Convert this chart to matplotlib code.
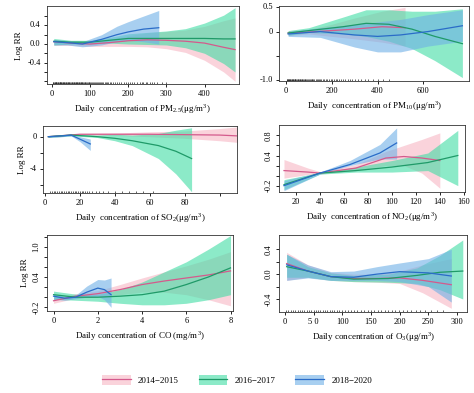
import numpy as np
import matplotlib.pyplot as plt
from matplotlib.patches import Patch
from matplotlib.lines import Line2D

plt.rcParams['font.family'] = ['Liberation Serif', 'DejaVu Serif']
plt.rcParams['mathtext.fontset'] = 'stix'

periods = ['2014\u22122015', '2016\u22122017', '2018\u22122020']
band_colors = ['#f7b6c4', '#3fdca4', '#6fb0e6']
line_colors = ['#d45a8c', '#1f9a68', '#2a6cc8']

# PM2.5
pm25_x = [[5, 50, 100, 150, 200, 250, 300, 350, 400, 450, 480],
          [5, 50, 100, 150, 200, 250, 300, 350, 400, 450, 480],
          [5, 40, 80, 130, 170, 200, 240, 280]]
pm25_mean = [[0.05, 0.02, 0.0, 0.03, 0.07, 0.09, 0.08, 0.06, 0.02, -0.07, -0.12],
             [0.06, 0.04, 0.04, 0.08, 0.12, 0.12, 0.12, 0.12, 0.12, 0.11, 0.11],
             [0.05, 0.03, 0.0, 0.1, 0.2, 0.26, 0.32, 0.35]]
pm25_low = [[-0.03, -0.03, -0.05, -0.05, -0.05, -0.06, -0.1, -0.18, -0.35, -0.6, -0.8],
            [-0.02, 0.0, 0.0, 0.02, 0.0, -0.01, -0.02, -0.08, -0.2, -0.42, -0.6],
            [-0.02, -0.02, -0.06, -0.02, 0.05, 0.08, 0.05, 0.0]]
pm25_high = [[0.1, 0.07, 0.05, 0.1, 0.18, 0.24, 0.27, 0.3, 0.38, 0.5, 0.56],
             [0.12, 0.08, 0.08, 0.14, 0.22, 0.25, 0.28, 0.33, 0.45, 0.62, 0.78],
             [0.1, 0.07, 0.05, 0.2, 0.38, 0.48, 0.6, 0.72]]
pm25_rug = [2, 4, 5, 7, 8, 10, 11, 12, 14, 15, 17, 18, 20, 21, 22, 24, 25, 27, 28, 30, 31,
            33, 35, 36, 38, 40, 41, 43, 45, 46, 48, 50, 52, 53, 55, 57, 58, 60, 62, 63, 65,
            67, 68, 70, 72, 73, 75, 77, 78, 80, 82, 84, 86, 88, 90, 92, 94, 96, 98, 100, 103,
            105, 108, 110, 113, 115, 118, 120, 123, 125, 128, 130, 134, 138, 141, 145, 148,
            152, 156, 160, 165, 170, 175, 180, 188, 195, 200, 205, 210, 215, 222, 230, 236,
            240, 246, 250, 256, 262, 268, 275, 288, 300]

# PM10
pm10_x = [[10, 100, 200, 300, 420, 520],
          [10, 100, 250, 350, 450, 550, 650, 770],
          [10, 150, 300, 400, 500, 620, 770]]
pm10_mean = [[-0.03, -0.01, 0.02, 0.05, 0.1, 0.08],
             [-0.03, 0.02, 0.1, 0.17, 0.15, 0.05, -0.1, -0.25],
             [-0.05, 0.0, -0.07, -0.1, -0.07, 0.0, 0.12]]
pm10_low = [[-0.08, -0.05, -0.1, -0.15, -0.22, -0.3],
            [-0.08, -0.02, -0.05, -0.1, -0.2, -0.35, -0.6, -0.95],
            [-0.1, -0.12, -0.32, -0.42, -0.42, -0.3, -0.2]]
pm10_high = [[0.02, 0.04, 0.15, 0.28, 0.42, 0.5],
             [0.02, 0.08, 0.3, 0.45, 0.45, 0.42, 0.42, 0.47],
             [0.0, 0.08, 0.15, 0.2, 0.25, 0.35, 0.45]]
pm10_rug = [3, 6, 8, 10, 12, 15, 18, 20, 22, 25, 28, 30, 32, 35, 38, 40, 42, 45, 48, 52,
            55, 58, 60, 63, 66, 69, 72, 75, 78, 82, 85, 88, 92, 96, 100, 104, 108, 112,
            116, 120, 125, 130, 135, 140, 145, 150, 155, 162, 168, 175, 180, 188, 195, 203,
            210, 218, 225, 232, 240, 250, 260, 270, 280, 290, 300, 315, 330, 345, 360, 380,
            400, 425, 450]

# SO2
so2_x = [[2, 20, 40, 60, 80, 100, 110],
         [2, 15, 30, 40, 50, 65, 75, 84],
         [2, 10, 15, 20, 26]]
so2_mean = [[0.0, 0.3, 0.3, 0.3, 0.25, 0.2, 0.1],
            [0.0, 0.2, 0.0, -0.2, -0.5, -1.1, -1.8, -2.7],
            [0.0, 0.1, 0.2, -0.3, -0.9]]
so2_low = [[-0.1, 0.2, 0.15, 0.0, -0.2, -0.5, -0.7],
           [-0.1, 0.1, -0.1, -0.5, -1.1, -2.7, -4.6, -6.8],
           [-0.1, 0.0, 0.1, -0.6, -1.7]]
so2_high = [[0.1, 0.4, 0.45, 0.6, 0.7, 1.0, 1.2],
            [0.1, 0.3, 0.2, 0.3, 0.2, 0.4, 0.8, 1.1],
            [0.1, 0.2, 0.3, 0.0, -0.3]]
so2_rug = [3, 4, 5, 6, 7, 8, 9, 10, 11, 12, 13, 14, 15, 16, 17, 18, 19, 20, 21, 22, 23,
           24, 25, 27, 29, 31, 33, 36, 40, 44, 48, 52, 56, 62]

# NO2
no2_x = [[10, 30, 40, 70, 95, 110, 125, 140],
         [10, 40, 70, 100, 130, 155],
         [10, 40, 65, 90, 104]]
no2_mean = [[0.1, 0.07, 0.05, 0.15, 0.35, 0.38, 0.35, 0.3],
            [-0.18, 0.05, 0.1, 0.17, 0.26, 0.4],
            [-0.2, 0.05, 0.22, 0.45, 0.65]]
no2_low = [[-0.05, 0.02, 0.03, 0.1, 0.2, 0.2, 0.05, -0.25],
           [-0.28, 0.03, 0.07, 0.07, 0.1, -0.2],
           [-0.3, 0.03, 0.2, 0.33, 0.33]]
no2_high = [[0.32, 0.15, 0.08, 0.22, 0.48, 0.6, 0.72, 0.85],
            [-0.08, 0.06, 0.17, 0.3, 0.45, 0.9],
            [-0.1, 0.07, 0.3, 0.62, 0.95]]

# CO
co_x = [[0, 1, 2, 3, 4, 5, 6, 7, 8],
        [0, 1, 2, 3, 4, 5, 6, 7, 8],
        [0, 0.5, 1, 1.5, 2, 2.3, 2.6]]
co_mean = [[-0.07, 0.02, 0.07, 0.15, 0.25, 0.32, 0.38, 0.44, 0.52],
           [0.05, 0.0, 0.0, 0.02, 0.05, 0.12, 0.25, 0.4, 0.58],
           [0.02, -0.02, 0.0, 0.1, 0.18, 0.15, 0.05]]
co_low = [[-0.12, -0.02, 0.02, 0.05, 0.1, 0.1, 0.05, -0.05, -0.17],
          [-0.04, -0.06, -0.08, -0.12, -0.15, -0.15, -0.12, -0.05, 0.05],
          [-0.04, -0.06, -0.03, 0.0, 0.02, -0.05, -0.2]]
co_high = [[-0.02, 0.07, 0.13, 0.25, 0.38, 0.5, 0.62, 0.75, 0.9],
           [0.12, 0.06, 0.06, 0.15, 0.3, 0.5, 0.7, 0.95, 1.22],
           [0.06, 0.02, 0.04, 0.22, 0.35, 0.34, 0.38]]

# O3
o3_x = [[3, 40, 80, 120, 160, 200, 240, 290],
        [3, 40, 80, 120, 180, 230, 270, 310],
        [3, 40, 80, 120, 160, 200, 250, 290]]
o3_mean = [[0.17, 0.05, -0.04, -0.07, -0.07, -0.06, -0.1, -0.17],
           [0.12, 0.05, -0.04, -0.08, -0.07, -0.02, 0.03, 0.05],
           [0.15, 0.05, -0.04, -0.05, 0.0, 0.04, 0.02, -0.03]]
o3_low = [[-0.1, -0.05, -0.1, -0.12, -0.13, -0.15, -0.3, -0.55],
          [-0.05, -0.05, -0.1, -0.12, -0.13, -0.15, -0.25, -0.4],
          [-0.1, -0.06, -0.1, -0.1, -0.1, -0.12, -0.2, -0.45]]
o3_high = [[0.35, 0.15, 0.03, 0.0, 0.0, 0.05, 0.15, 0.25],
           [0.32, 0.12, 0.02, -0.02, 0.0, 0.1, 0.3, 0.55],
           [0.32, 0.15, 0.04, 0.05, 0.12, 0.18, 0.25, 0.4]]
o3_rug = [2, 6, 10, 14, 18, 22, 26, 30, 34, 38, 42, 46, 50, 54, 58, 62, 66, 70, 74, 78,
          82, 86, 90, 95, 100, 105, 110, 115, 120, 126, 132, 138, 144, 150, 156, 162, 168,
          174, 180, 186, 192, 198, 205, 212, 220, 228, 236, 245, 255, 265, 275]

panels = [
    dict(pos=[0.099, 0.786, 0.405, 0.198], x=pm25_x, m=pm25_mean, lo=pm25_low, hi=pm25_high,
         rug=pm25_rug, xlim=(-13, 490), ylim=(-0.86, 0.81),
         xticks=[0, 100, 200, 300, 400], xlabels=['0', '100', '200', '300', '400'],
         yticks=[-0.8, -0.6, -0.4, -0.2, 0.0, 0.2, 0.4, 0.6],
         ylabels=['', '', '-0.4', '', '0.0', '', '0.4', ''], rot=0,
         xlabel='Daily  concentration of PM$_\\mathregular{2.5}$(\u03bcg/m$^\\mathregular{3}$)', logrr=True),
    dict(pos=[0.589, 0.794, 0.401, 0.191], x=pm10_x, m=pm10_mean, lo=pm10_low, hi=pm10_high,
         rug=pm10_rug, xlim=(-29, 800), ylim=(-1.02, 0.53),
         xticks=[0, 200, 400, 600], xlabels=['0', '200', '400', '600'],
         yticks=[-1.0, -0.5, 0.0, 0.5], ylabels=['-1.0', '', '0', '0.5'], rot=0,
         xlabel='Daily  concentration of PM$_\\mathregular{10}$(\u03bcg/m$^\\mathregular{3}$)', logrr=False),
    dict(pos=[0.091, 0.509, 0.409, 0.170], x=so2_x, m=so2_mean, lo=so2_low, hi=so2_high,
         rug=so2_rug, xlim=(-1, 110), ylim=(-6.95, 1.3),
         xticks=[0, 20, 40, 60, 80, 100], xlabels=['0', '20', '40', '60', '80', ''],
         yticks=[-6, -4, -2, 0], ylabels=['', '-4', '', '0'], rot=0,
         xlabel='Daily  concentration of SO$_\\mathregular{2}$(\u03bcg/m$^\\mathregular{3}$)', logrr=True),
    dict(pos=[0.589, 0.511, 0.392, 0.170], x=no2_x, m=no2_mean, lo=no2_low, hi=no2_high,
         rug=None, xlim=(6, 161), ylim=(-0.33, 1.0),
         xticks=[20, 40, 60, 80, 100, 120, 140, 160],
         xlabels=['20', '40', '60', '80', '100', '120', '140', '160'],
         yticks=[-0.2, 0.0, 0.2, 0.4, 0.6, 0.8], ylabels=['-0.2', '', '', '0.4', '', '0.8'], rot=90,
         xlabel='Daily  concentration of NO$_\\mathregular{2}$(\u03bcg/m$^\\mathregular{3}$)', logrr=False),
    dict(pos=[0.099, 0.209, 0.392, 0.193], x=co_x, m=co_mean, lo=co_low, hi=co_high,
         rug=None, xlim=(-0.3, 8.1), ylim=(-0.27, 1.23),
         xticks=[0, 2, 4, 6, 8], xlabels=['0', '2', '4', '6', '8'],
         yticks=[-0.2, 0.0, 0.2, 0.4, 0.6, 0.8, 1.0, 1.2],
         ylabels=['-0.2', '', '', '0.4', '', '', '1.0', ''], rot=90,
         xlabel='Daily concentration of CO (mg/m$^\\mathregular{3}$)', logrr=True),
    dict(pos=[0.589, 0.206, 0.397, 0.196], x=o3_x, m=o3_mean, lo=o3_low, hi=o3_high,
         rug=o3_rug, xlim=(-10, 318), ylim=(-0.61, 0.63),
         xticks=[0, 50, 100, 150, 200, 250, 300],
         xlabels=['0', '5 0', '100', '150', '200', '250', '300'],
         yticks=[-0.4, -0.2, 0.0, 0.2, 0.4], ylabels=['-0.4', '', '0.0', '', '0.4'], rot=90,
         xlabel='Daily concentration of O$_\\mathregular{3}$(\u03bcg/m$^\\mathregular{3}$)', logrr=False),
]

fig = plt.figure(figsize=(4.74, 3.93), dpi=100)

for p in panels:
    ax = fig.add_axes(p['pos'])
    for k in range(3):
        ax.fill_between(p['x'][k], p['lo'][k], p['hi'][k], color=band_colors[k], alpha=0.6, lw=0)
    for k in range(3):
        ax.plot(p['x'][k], p['m'][k], color=line_colors[k], lw=0.9)
    if p['rug'] is not None:
        y0 = p['ylim'][0]
        h = (p['ylim'][1] - p['ylim'][0]) * 0.03
        ax.vlines(p['rug'], y0, y0 + h, color='#222222', lw=0.5)
    ax.set_xlim(p['xlim'])
    ax.set_ylim(p['ylim'])
    ax.set_xticks(p['xticks'])
    ax.set_xticklabels(p['xlabels'])
    ax.set_yticks(p['yticks'])
    ax.set_yticklabels(p['ylabels'], rotation=p['rot'], va='center')
    ax.tick_params(labelsize=6, length=2.5, width=0.6, pad=2)
    ax.set_xlabel(p['xlabel'], fontsize=6.5, labelpad=3)
    if p['logrr']:
        ax.set_ylabel('Log RR', fontsize=6.5, labelpad=3)
    for s in ax.spines.values():
        s.set_linewidth(0.6)
        s.set_color('#333333')

handles = [(Patch(facecolor=band_colors[k], alpha=0.6, lw=0),
            Line2D([], [], color=line_colors[k], lw=0.9)) for k in range(3)]
fig.legend(handles, periods, loc='center', bbox_to_anchor=(0.5, 0.033), ncol=3,
           frameon=False, fontsize=6.5, handlelength=3.2, handleheight=1.4, columnspacing=2.2)

fig.savefig('out.png', dpi=100)
